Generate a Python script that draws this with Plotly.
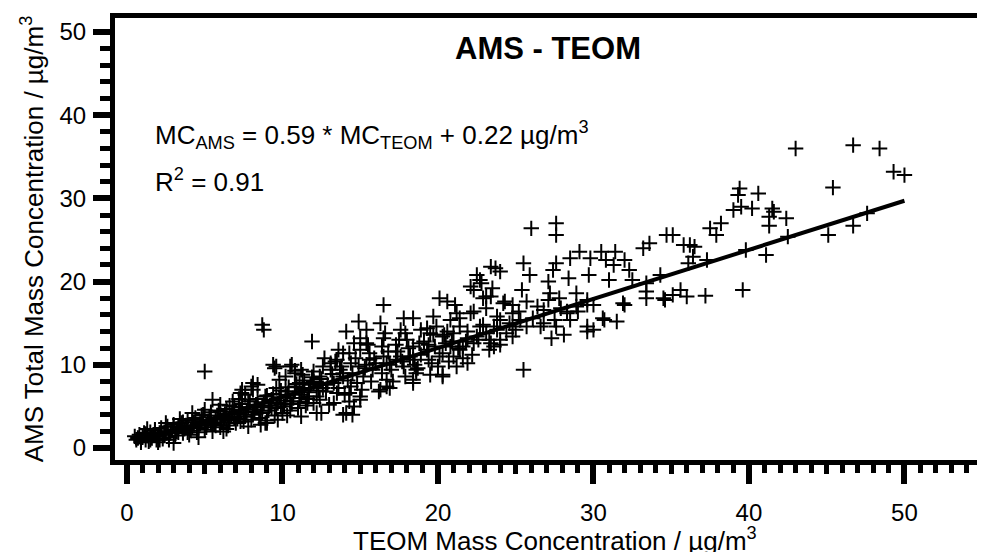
import plotly.graph_objects as go

# ---------------- data ----------------
teom_low = [
    0.5, 0.7, 0.8, 0.9, 1.0, 1.1, 1.2, 1.3, 1.4, 1.5,
    1.6, 1.7, 1.8, 1.9, 2.0, 2.1, 2.2, 2.3, 2.4, 2.5,
    2.6, 2.7, 2.8, 2.9, 3.0, 3.1, 3.2, 3.3, 3.0, 3.5,
    3.6, 3.7, 3.8, 3.9, 4.0, 4.1, 4.2, 4.3, 4.4, 4.5,
    4.6, 4.7, 4.8, 4.9, 5.0, 5.1, 5.2, 5.3, 5.4, 5.5,
    5.6, 5.7, 5.8, 5.9, 6.0, 6.1, 6.2, 6.3, 6.4, 6.5,
    6.6, 6.7, 6.8, 6.9, 7.0, 7.1, 7.2, 7.3, 7.4, 7.5,
    7.6, 7.7, 7.8, 7.9, 8.0, 8.1, 8.2, 8.3, 8.4, 8.5,
    8.6, 8.7, 8.8, 8.9, 9.0, 9.1, 9.2, 9.3, 9.4, 9.5,
    9.6, 9.7, 9.8, 9.9, 10.0, 10.1, 10.2, 10.3, 10.4, 10.5,
    10.6, 10.7, 10.8, 10.9, 11.0, 11.1, 11.2, 11.3, 11.4, 11.5,
    11.6, 11.7, 11.8, 11.9, 12.0, 5.5, 1.3, 2.0, 7.2, 7.6,
    8.1, 8.1, 9.8, 10.2, 10.8, 11.2, 9.0, 10.3, 11.2, 12.5,
    7.3, 6.4, 9.6, 10.5, 7.3, 8.7, 8.8, 5.0, 9.4, 9.5,
    10.6, 11.9, 7.4, 8.0, 8.4, 10.8, 8.9, 9.7, 2.5, 3.4,
    4.2, 5.0, 6.0, 6.8, 4.6, 6.2, 7.8, 8.6,
    0.6, 0.9, 1.2, 1.5, 1.8, 2.1, 2.4, 2.7, 3.0, 3.3,
    3.6, 3.9, 4.2, 4.5, 4.8, 5.1, 5.4, 5.7, 6.0, 6.3,
    6.6, 6.9, 7.2, 7.5, 7.8, 8.1, 8.4, 8.7, 9.0, 9.3,
    9.6, 9.9, 10.2, 10.5, 10.8, 11.1, 11.4, 11.7, 12.0, 12.3,
]
ams_low = [
    1.4, 1.2, 1.6, 0.9, 1.3, 1.8, 1.0, 1.5, 0.8, 1.9,
    1.2, 1.6, 2.2, 1.0, 1.4, 1.8, 2.4, 1.1, 1.6, 2.0,
    2.6, 1.3, 1.8, 2.2, 2.8, 1.5, 2.0, 2.5, 0.6, 3.0,
    1.8, 2.3, 2.7, 3.3, 1.6, 2.1, 2.6, 3.1, 3.6, 1.9,
    2.4, 2.9, 3.4, 4.0, 2.2, 2.7, 3.2, 3.7, 4.3, 2.0,
    2.9, 3.4, 3.9, 4.5, 2.5, 3.1, 3.6, 4.1, 4.7, 2.7,
    3.3, 3.8, 4.4, 5.0, 3.0, 3.5, 4.1, 4.6, 5.3, 3.2,
    3.8, 4.3, 4.9, 5.6, 3.4, 4.0, 4.6, 5.2, 5.9, 3.6,
    4.3, 4.9, 5.5, 6.2, 3.3, 4.5, 5.1, 5.8, 6.5, 3.9,
    4.8, 5.4, 6.1, 6.9, 4.2, 5.0, 5.7, 6.4, 7.3, 4.5,
    5.3, 6.0, 6.8, 7.7, 4.8, 5.6, 6.4, 7.2, 8.1, 5.1,
    5.9, 6.7, 7.6, 8.5, 5.4, 5.8, 2.3, 0.7, 5.9, 6.4,
    7.0, 7.8, 8.2, 8.6, 9.3, 9.4, 3.0, 3.9, 3.8, 4.2,
    3.2, 2.3, 9.8, 9.8, 6.6, 14.8, 14.2, 9.2, 10.0, 9.6,
    10.0, 12.8, 7.0, 7.4, 7.6, 9.0, 3.0, 3.4, 3.0, 3.5,
    4.2, 4.6, 5.2, 5.6, 1.3, 2.0, 2.6, 2.8,
    1.0, 0.7, 1.7, 1.0, 2.1, 1.0, 1.9, 1.0, 2.6, 1.9,
    3.1, 1.9, 3.4, 2.4, 3.9, 2.5, 3.0, 2.7, 4.4, 3.5,
    5.1, 3.6, 4.9, 3.8, 5.8, 4.4, 5.0, 4.2, 6.3, 4.9,
    7.2, 5.2, 6.8, 5.6, 7.4, 6.0, 7.0, 6.2, 8.0, 6.9,
]

teom_mid = [
    16.5, 17.8, 18.4, 14.9, 16.3, 14.1, 15.4, 15.0, 16.5, 17.5,
    18.0, 19.7, 20.1, 20.6, 21.1, 22.1, 22.5, 23.4, 22.8, 22.3,
    23.1, 23.4, 20.8, 21.4, 19.3, 19.7, 20.3, 18.8, 19.3, 20.1,
    21.0, 21.4, 22.3, 23.1, 23.8, 13.9, 15.0, 15.6, 16.5, 17.6,
    18.4, 14.4, 15.4, 16.7, 17.8, 18.6, 19.5, 20.3, 18.4, 16.7,
    17.1, 16.3, 14.8, 15.2, 13.7, 13.1, 12.6, 12.0, 11.3, 11.1,
    12.0, 12.6, 13.3, 13.5, 14.3, 15.0, 14.6, 14.1, 13.9, 12.2,
    11.6, 12.4, 13.3, 14.5, 15.0, 16.9, 18.4, 20.3, 21.2, 21.9,
    23.3, 24.0, 24.8, 25.7, 26.8, 28.1, 29.6, 30.0, 30.7, 31.5,
    31.9, 33.4, 28.3, 28.9, 29.6, 22.3, 23.1, 21.2, 22.1, 24.2,
    24.8, 19.5, 20.8, 21.8, 22.5, 23.3, 18.2, 17.3, 15.6, 14.3,
    13.5, 18.6, 20.3, 15.8, 16.7, 13.9, 13.1, 14.3,
    12.2, 12.5, 12.8, 13.0, 13.2, 13.6, 13.8, 14.0, 14.2, 14.5,
    14.7, 15.1, 15.3, 15.7, 16.0, 16.2, 16.4, 16.8, 17.0, 17.3,
    17.7, 17.9, 18.1, 18.5, 18.9, 19.1, 19.4, 19.8, 20.0, 20.5,
    20.7, 21.0, 21.3, 21.6, 21.9, 22.2, 22.6, 22.9, 23.4, 23.8,
    24.4, 24.6, 25.0, 25.2, 26.1, 26.4, 27.9,
    12.4, 12.9, 13.4, 13.9, 14.4, 14.9, 15.4, 15.9, 16.4, 16.9,
    17.4, 17.9, 18.4, 18.9, 19.4, 19.9, 20.4, 20.9, 21.4, 21.9,
    12.7, 13.6, 14.6, 15.5, 16.6, 17.6, 18.7, 19.6, 20.6, 21.6,
]
ams_mid = [
    17.2, 15.6, 15.6, 15.2, 15.0, 14.0, 14.2, 13.2, 13.2, 13.0,
    13.0, 15.8, 18.0, 17.6, 17.2, 19.4, 20.8, 21.8, 19.8, 16.4,
    16.8, 18.2, 15.4, 14.6, 14.4, 13.6, 13.4, 12.6, 11.8, 11.0,
    11.0, 11.8, 12.6, 13.8, 14.2, 11.4, 11.8, 11.4, 11.0, 11.0,
    10.6, 10.2, 10.0, 10.2, 9.8, 9.0, 8.8, 8.6, 7.8, 7.4,
    8.0, 7.0, 7.8, 8.6, 9.4, 10.2, 9.8, 9.2, 8.8, 7.8,
    7.8, 7.2, 7.8, 6.6, 6.6, 5.8, 5.0, 4.2, 4.0, 4.2,
    5.4, 5.8, 5.4, 4.0, 6.2, 7.2, 8.2, 8.8, 9.8, 10.2,
    11.8, 12.4, 13.4, 14.6, 15.0, 13.6, 14.0, 14.2, 15.4, 15.2,
    17.4, 18.8, 16.2, 17.0, 17.8, 19.0, 18.2, 16.2, 16.2, 17.4,
    16.2, 13.8, 12.2, 12.8, 13.4, 13.0, 11.0, 10.6, 10.6, 11.4,
    10.6, 9.4, 11.4, 9.4, 8.2, 8.6, 9.4, 5.6,
    6.2, 8.3, 6.8, 5.2, 8.9, 7.2, 9.8, 6.4, 8.1, 9.0,
    10.8, 7.0, 9.6, 8.0, 10.2, 6.8, 9.0, 11.6, 9.4, 12.4,
    10.4, 8.6, 12.0, 10.0, 11.2, 12.8, 10.6, 12.2, 9.8, 12.6,
    10.4, 13.8, 12.0, 10.8, 14.0, 11.2, 13.0, 14.8, 12.6, 15.8,
    13.8, 15.0, 14.2, 16.4, 15.6, 17.0, 16.8,
    8.6, 7.6, 10.4, 9.0, 7.4, 9.8, 12.6, 10.8, 12.2, 10.0,
    11.6, 13.8, 12.2, 14.2, 12.4, 14.6, 13.6, 12.8, 15.6, 13.2,
    10.8, 11.8, 12.6, 12.4, 13.8, 14.2, 9.6, 10.2, 14.0, 12.2,
]

teom_high = [
    26.0, 27.6, 27.6, 35.1, 33.6, 33.2, 29.1, 28.5, 30.5, 31.4,
    29.8, 30.8, 31.3, 32.0, 32.3, 25.5, 25.9, 27.6, 27.4, 23.7,
    24.0, 28.4, 29.7, 31.0, 34.3, 33.4, 32.5, 27.1, 28.9, 27.2,
    25.4, 23.5, 22.7, 22.9, 24.3, 24.8, 25.7, 27.1, 27.8, 29.6,
    30.0, 32.0, 33.4, 34.5, 26.8, 28.3, 29.0, 28.5, 27.5, 30.6,
    26.6, 27.6, 29.6, 27.3, 25.3, 24.8, 24.0, 23.6, 24.0, 23.6,
    22.7, 25.5, 43.0, 46.7, 48.4, 49.3, 50.0, 45.4, 39.4, 39.3,
    40.6, 39.0, 39.5, 40.2, 41.5, 41.6, 41.3, 41.3, 42.4, 38.2,
    37.5, 37.9, 35.8, 36.2, 36.5, 36.4, 36.1, 37.3, 39.8, 41.1,
    42.5, 45.1, 46.7, 47.6, 39.6, 35.6, 34.6, 35.1, 36.0, 37.2,
    34.7,
]
ams_high = [
    26.4, 27.0, 25.6, 25.6, 24.6, 24.0, 23.6, 22.8, 23.6, 23.6,
    22.8, 22.6, 22.0, 22.6, 21.4, 22.2, 20.8, 22.2, 21.4, 21.6,
    21.2, 20.4, 20.8, 20.2, 20.8, 19.8, 20.2, 20.0, 18.6, 18.6,
    19.0, 19.2, 20.2, 18.0, 17.6, 17.2, 17.6, 17.8, 18.0, 17.2,
    17.2, 17.2, 18.0, 18.0, 16.6, 16.4, 16.4, 15.4, 15.4, 15.6,
    14.6, 14.6, 14.6, 13.2, 15.4, 14.6, 15.4, 14.6, 13.0, 12.2,
    14.6, 9.4, 36.0, 36.4, 36.0, 33.2, 32.8, 31.3, 31.2, 30.4,
    30.6, 28.6, 29.0, 28.8, 28.8, 28.4, 27.8, 26.7, 27.6, 27.0,
    26.4, 25.6, 24.4, 24.4, 24.2, 23.0, 22.2, 22.6, 23.8, 23.2,
    25.4, 25.6, 26.7, 28.2, 19.0, 19.0, 17.8, 18.4, 18.2, 18.3,
    25.6,
]

fit_slope = 0.59
fit_intercept = 0.22
r_squared = 0.91

x_major_ticks = [0, 10, 20, 30, 40, 50]
x_mid_ticks = [5, 15, 25, 35, 45, 55]
y_major_ticks = [0, 10, 20, 30, 40, 50]

# ---------------- figure ----------------
teom = teom_low + teom_mid + teom_high
ams = ams_low + ams_mid + ams_high
fit_x = [min(teom), max(teom)]
fit_y = [fit_slope * v + fit_intercept for v in fit_x]

FONT = "Liberation Sans, Arial, Helvetica, sans-serif"
X_RANGE = [-0.77, 55.18]
Y_RANGE = [-1.44, 51.68]

# the page body adds an 8 px offset; plot area wanted at screen 115..985 x 18..460
OFF = 8
SL, ST, W, H = 115, 18, 870, 442
L, T = SL - OFF, ST - OFF
R = 985 - L - W
B = 552 - T - H


def px_x(p):
    return (p - SL) / W


def px_y(p):
    return 1 - (p - ST) / H


fig = go.Figure()
fig.add_trace(go.Scatter(
    x=teom, y=ams, mode="markers",
    marker=dict(symbol="cross-thin", size=11, color="black",
                line=dict(color="black", width=2)),
    hoverinfo="x+y",
))
fig.add_trace(go.Scatter(
    x=fit_x, y=fit_y, mode="lines", xaxis="x2",
    line=dict(color="black", width=4),
))

fig.update_layout(
    width=985, height=552,
    margin=dict(l=L, r=R, t=T, b=B, autoexpand=False),
    paper_bgcolor="white", plot_bgcolor="white",
    showlegend=False,
    font=dict(family=FONT, color="black", size=24),
    xaxis=dict(
        range=X_RANGE, tickvals=x_major_ticks, ticks="outside",
        ticklen=19, tickwidth=6, tickcolor="black",
        showline=True, linewidth=5, linecolor="black", mirror=True,
        showgrid=False, zeroline=False, automargin=False,
        tickfont=dict(size=24), ticklabelstandoff=8,
        minor=dict(dtick=1, tick0=0, ticks="outside", ticklen=8,
                   tickwidth=5, tickcolor="black", showgrid=False),
    ),
    xaxis2=dict(
        range=X_RANGE, overlaying="x", anchor="y", side="bottom",
        tickvals=x_mid_ticks, ticks="outside", ticklen=13, tickwidth=5,
        tickcolor="black", showticklabels=False, showline=False,
        showgrid=False, zeroline=False, automargin=False,
    ),
    yaxis=dict(
        range=Y_RANGE, tickvals=y_major_ticks, ticks="outside",
        ticklen=17, tickwidth=6, tickcolor="black",
        showline=True, linewidth=5, linecolor="black", mirror=False,
        showgrid=False, zeroline=False, automargin=False,
        tickfont=dict(size=24), ticklabelstandoff=2,
        minor=dict(dtick=2, tick0=0, ticks="outside", ticklen=10,
                   tickwidth=5, tickcolor="black", showgrid=False),
        title=dict(text="AMS Total Mass Concentration / µg/m<sup>3</sup>",
                   font=dict(size=26), standoff=10),
    ),
    annotations=[
        dict(text="<b>AMS - TEOM</b>", xref="paper", yref="paper",
             x=px_x(548), y=px_y(49),
             xanchor="center", yanchor="middle", showarrow=False,
             font=dict(size=31)),
        dict(text=f"MC<sub>AMS</sub> = {fit_slope:.2f} * MC<sub>TEOM</sub> + {fit_intercept:.2f} µg/m<sup>3</sup>",
             xref="paper", yref="paper",
             x=px_x(153), y=px_y(135),
             xanchor="left", yanchor="middle", showarrow=False,
             font=dict(size=26)),
        dict(text=f"R<sup>2</sup> = {r_squared:.2f}",
             xref="paper", yref="paper",
             x=px_x(153), y=px_y(180),
             xanchor="left", yanchor="middle", showarrow=False,
             font=dict(size=26)),
        dict(text="TEOM Mass Concentration / µg/m<sup>3</sup>",
             xref="paper", yref="paper",
             x=px_x(555), y=px_y(539),
             xanchor="center", yanchor="middle", showarrow=False,
             font=dict(size=26)),
    ],
)

fig.write_html("out.html")
